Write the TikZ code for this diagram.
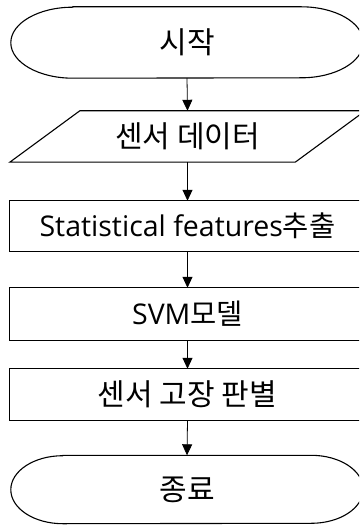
\documentclass[tikz,border=0pt]{standalone}
\usepackage{fontspec}
\setmainfont{Open Sans}
\newfontfamily\kr{Noto Sans CJK KR}
\usetikzlibrary{arrows.meta}
\begin{document}
\begin{tikzpicture}[x=1pt,y=1pt,
  txt/.style={draw=none, inner sep=0pt, font=\fontsize{28.5}{32}\selectfont},
  krtxt/.style={txt, font=\fontsize{30}{34}\selectfont\kr},
  outline/.style={draw=black, line width=1.1pt},
  arr/.style={draw=black, line width=0.8pt, -{Triangle[length=11pt,width=10pt]}}]
\useasboundingbox (0,0) rectangle (359,-526);
\clip (0,0) rectangle (359,-526);
\fill[white] (0,0) rectangle (359,-526);
% nodes
\node[krtxt, minimum width=352pt, minimum height=71pt] (s) at (187,-42.5) {시작};
\node[krtxt, minimum width=285pt, minimum height=51pt] (p) at (187.5,-136.5) {센서 데이터};
\node[txt, minimum width=356pt, minimum height=50pt] (r1) at (187.5,-226) {Statistical features{\kr 추출}};
\node[txt, minimum width=356pt, minimum height=52pt] (r2) at (187.5,-314) {SVM{\kr 모델}};
\node[krtxt, minimum width=356pt, minimum height=51pt] (r3) at (187.5,-394.5) {센서 고장 판별};
\node[krtxt, minimum width=352pt, minimum height=68pt] (e) at (187,-489.5) {종료};
% outlines
\draw[outline] ([xshift=62pt]s.north west) -- ([xshift=-62pt]s.north east)
  arc[start angle=90, end angle=-90, x radius=62pt, y radius=35.5pt]
  -- ([xshift=62pt]s.south west)
  arc[start angle=270, end angle=90, x radius=62pt, y radius=35.5pt] -- cycle;
\draw[outline] ([xshift=-35pt]p.south west) -- ([xshift=-35pt]p.south east)
  -- ([xshift=35pt]p.north east) -- ([xshift=35pt]p.north west) -- cycle;
\draw[outline] (r1.south west) rectangle (r1.north east);
\draw[outline] (r2.south west) rectangle (r2.north east);
\draw[outline] (r3.south west) rectangle (r3.north east);
\draw[outline] ([xshift=52pt]e.north west) -- ([xshift=-52pt]e.north east)
  arc[start angle=90, end angle=-90, x radius=52pt, y radius=34pt]
  -- ([xshift=52pt]e.south west)
  arc[start angle=270, end angle=90, x radius=52pt, y radius=34pt] -- cycle;
% connectors
\draw[arr] (s.south) -- (p.north);
\draw[arr] (p.south) -- (r1.north);
\draw[arr] (r1.south) -- (r2.north);
\draw[arr] (r2.south) -- (r3.north);
\draw[arr] (r3.south) -- (e.north);
\end{tikzpicture}
\end{document}
